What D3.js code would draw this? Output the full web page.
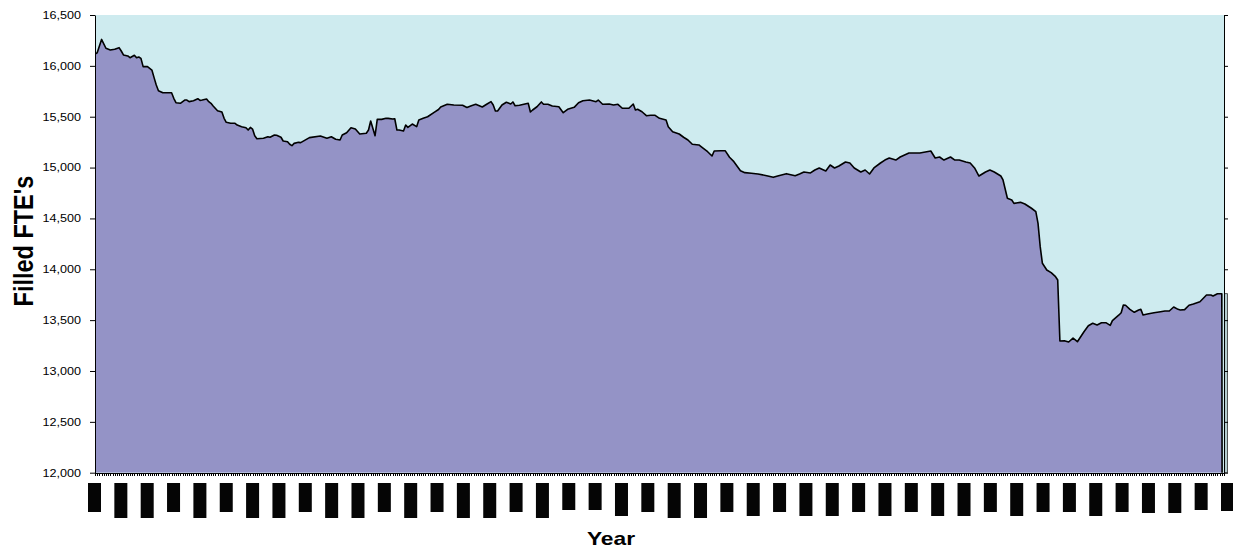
<!DOCTYPE html>
<html>
<head>
<meta charset="utf-8">
<script src="https://cdn.jsdelivr.net/npm/d3@7"></script>
<style>
  body { margin: 0; background: #fff; }
  text { font-family: "Liberation Sans", Arial, sans-serif; }
</style>
</head>
<body>
<div id="chart"></div>
<script>
// month index (0 = first month on the axis) and filled FTE's
const months = [0,1,3,5,7,9,11,12,13,15,16,18,19,20,21,22,24,26,27,28,29,31,35,36,37,39,41,42,43,45,47,48,49,51,52,53,54,56,58,59,60,62,64,65,67,69,70,71,72,73,74,77,79,80,82,83,85,86,88,89,90,91,93,94,98,103,106,108,110,112,113,115,117,119,121,124,125,126,128,129,131,133,134,136,137,138,139,141,142,143,145,147,148,150,152,155,157,158,161,164,168,170,172,174,177,179,181,182,183,184,186,188,190,191,192,194,196,198,199,200,202,204,205,207,209,212,214,216,219,221,223,226,229,230,232,235,237,239,241,244,246,247,248,250,252,254,256,258,261,262,264,267,269,271,273,276,277,280,282,283,286,288,290,292,295,297,300,303,307,310,312,316,320,322,324,327,329,331,334,336,338,340,343,345,347,350,352,354,356,359,361,363,366,368,370,372,377,382,384,386,388,391,393,395,398,400,402,404,407,409,411,414,415,417,419,420,423,425,428,430,431,432,433,435,437,439,440,441,443,445,447,449,452,454,456,458,460,462,464,465,468,469,470,471,473,475,477,478,479,481,484,487,489,491,493,495,496,498,500,502,505,508,510,511,513,515,516];
const fte = [16115,16129,16260,16173,16156,16163,16179,16146,16107,16097,16080,16104,16080,16087,16074,15992,15992,15959,15884,15812,15756,15736,15736,15681,15638,15632,15664,15664,15648,15657,15677,15661,15664,15674,15648,15632,15605,15559,15546,15484,15445,15435,15435,15418,15402,15392,15369,15395,15378,15313,15284,15288,15303,15298,15320,15317,15298,15261,15254,15229,15215,15238,15248,15245,15294,15310,15288,15303,15278,15271,15320,15343,15392,15379,15330,15337,15369,15458,15313,15474,15474,15484,15484,15477,15480,15369,15369,15359,15418,15395,15428,15402,15468,15484,15500,15543,15571,15596,15623,15615,15612,15590,15608,15622,15595,15622,15648,15615,15556,15556,15615,15642,15625,15645,15608,15612,15622,15632,15546,15566,15598,15645,15622,15622,15605,15598,15539,15573,15592,15638,15657,15664,15648,15664,15622,15625,15615,15622,15583,15583,15625,15566,15573,15549,15510,15514,15514,15484,15468,15402,15353,15330,15298,15271,15229,15222,15205,15156,15114,15163,15166,15166,15101,15058,14969,14950,14944,14937,14920,14904,14917,14940,14920,14937,14956,14947,14976,14996,14966,15025,14996,15015,15055,15045,14996,14956,14976,14937,14996,15045,15074,15094,15074,15104,15124,15143,15143,15163,15094,15104,15074,15104,15074,15074,15055,15045,14996,14917,14956,14976,14956,14917,14878,14698,14681,14648,14658,14642,14600,14566,14452,14222,14059,13993,13967,13927,13895,13295,13298,13285,13324,13288,13386,13445,13469,13452,13475,13475,13449,13495,13551,13573,13649,13646,13606,13577,13600,13606,13551,13560,13573,13583,13590,13590,13629,13606,13600,13603,13646,13659,13681,13747,13747,13737,13760,13760,0];
const yTicks = [12000,12500,13000,13500,14000,14500,15000,15500,16000,16500];

// x labels came out as solid black blocks, one per 12 months; their lower ends (px)
const blockBottoms = [512,518,518,512,518,512,518,518,512,518,518,512,518,512,518,518,512,518,510,510,516,512,518,518,512,516,512,516,516,512,516,512,516,516,512,516,512,512,516,512,513,513,510,511];

const data = months.map((m, i) => ({m: m, v: fte[i]}));

const margin = {top: 15, right: 9, bottom: 75.3, left: 95},
    width = 1233 - margin.left - margin.right,
    height = 548 - margin.top - margin.bottom;

const x = d3.scaleLinear().domain([0, 516]).range([0, width]);
const xLab = d3.scaleLinear().domain([0, 516]).range([-0.5, width + 3.5]);
const y = d3.scaleLinear().domain([12000, 16500]).range([height, 0]);

const svg = d3.select('#chart')
    .append('svg')
        .attr('width', 1233)
        .attr('height', 548)
    .append('g')
        .attr('transform', 'translate(' + margin.left + ',' + margin.top + ')');

// stretch text a bit wider, like the original
function widen(sel, k) {
  sel.each(function () {
    const w = this.getComputedTextLength();
    d3.select(this).attr('textLength', w * k).attr('lengthAdjust', 'spacingAndGlyphs');
  });
}

svg.append('clipPath').attr('id', 'plotclip')
  .append('rect').attr('width', width).attr('height', height);

// plot background
svg.append('rect')
    .attr('width', width)
    .attr('height', height)
    .attr('fill', '#ceebef');

const area = d3.area()
    .x(d => x(d.m))
    .y0(height)
    .y1(d => y(d.v));

const line = d3.line()
    .x(d => x(d.m))
    .y(d => y(d.v));

svg.append('path')
    .datum(data)
    .attr('clip-path', 'url(#plotclip)')
    .attr('fill', '#9493c6')
    .attr('d', area);

svg.append('path')
    .datum(data)
    .attr('clip-path', 'url(#plotclip)')
    .attr('fill', 'none')
    .attr('stroke', '#000')
    .attr('stroke-width', 1.6)
    .attr('stroke-linejoin', 'round')
    .attr('d', line);

// thin strip just right of the plot
svg.append('rect')
    .attr('x', width + 0.5)
    .attr('y', y(fte[fte.length - 2]))
    .attr('width', 3)
    .attr('height', height - y(fte[fte.length - 2]))
    .attr('fill', '#b5cdd0')
    .attr('stroke', '#333')
    .attr('stroke-width', 0.8);

// y axis
const yAxis = svg.append('g')
    .attr('class', 'y axis')
    .call(d3.axisLeft(y).tickValues(yTicks).tickSize(5).tickSizeOuter(0).tickPadding(9)
      .tickFormat(d3.format(',')));
yAxis.selectAll('text').attr('font-size', 10.5).attr('fill', '#000').attr('font-family', '"Liberation Sans", Arial, sans-serif');
widen(yAxis.selectAll('text'), 1.2);

// right axis, ticks only
svg.append('g')
    .attr('transform', 'translate(' + width + ',0)')
    .call(d3.axisRight(y).tickValues(yTicks).tickSize(4).tickSizeOuter(0).tickFormat(''));

// x axis: one small tick per month
svg.append('g')
    .attr('class', 'x axis')
    .attr('transform', 'translate(0,' + height + ')')
    .attr('shape-rendering', 'crispEdges')
    .call(d3.axisBottom(x).tickValues(d3.range(0, 517)).tickSize(3).tickSizeOuter(0).tickFormat(''));

// the label blocks
svg.append('g')
  .selectAll('rect')
  .data(d3.range(0, 517, 12))
  .join('rect')
    .attr('x', d => xLab(d) - 6.5)
    .attr('y', 483 - margin.top)
    .attr('width', 13)
    .attr('height', (d, i) => blockBottoms[i] - 483)
    .attr('fill', '#050505');

// axis titles (the original is stretched sideways, so the vertical one gets thicker)
svg.append('text')
    .attr('transform', 'translate(' + (33 - margin.left) + ',' + (241 - margin.top) + ') scale(1.2,1) rotate(-90)')
    .attr('text-anchor', 'middle')
    .attr('font-weight', 'bold')
    .attr('font-size', 23.5)
    .text("Filled FTE's");

const xTitle = svg.append('text')
    .attr('x', 611 - margin.left)
    .attr('y', 545 - margin.top)
    .attr('text-anchor', 'middle')
    .attr('font-weight', 'bold')
    .attr('font-size', 19)
    .text('Year');
widen(xTitle, 1.2);
</script>
</body>
</html>
